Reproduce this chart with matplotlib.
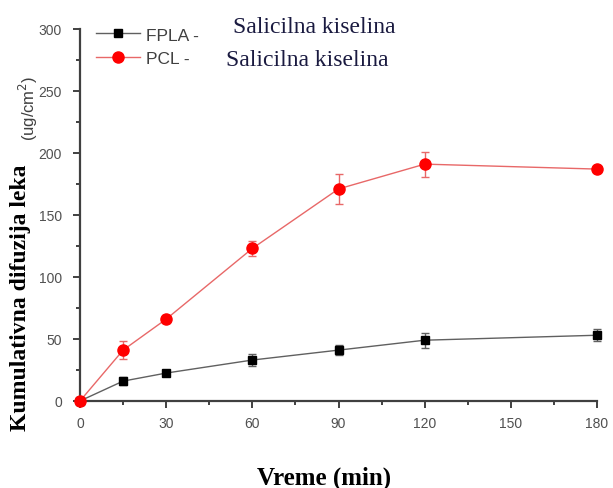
import matplotlib
matplotlib.use("Agg")
import matplotlib.pyplot as plt
from matplotlib.lines import Line2D
from matplotlib.ticker import MultipleLocator

# time points (min)
vreme = [0, 15, 30, 60, 90, 120, 180]

# cumulative diffusion (ug/cm2)
fpla = [0, 16, 22.5, 33, 41, 49, 53]
fpla_err = [0, 3, 2, 5, 4, 6, 5]
pcl = [0, 41, 66, 123, 171, 191, 187]
pcl_err = [0, 7, 3, 6, 12, 10, 2]

y_ticks = [0, 50, 100, 150, 200, 250, 300]
x_ticks = [0, 30, 60, 90, 120, 150, 180]

series_labels = ['FPLA -', 'PCL -']


def main():
    fig = plt.figure(figsize=(6.13, 4.89), dpi=100)
    ax = fig.add_axes([0.1305, 0.178, 0.8435, 0.7607])

    black_line = '#606060'
    red_line = '#e86868'

    ax.errorbar(vreme, fpla, yerr=fpla_err, color=black_line, lw=1,
                marker='s', ms=6, mfc='black', mec='black',
                ecolor=black_line, elinewidth=1, capsize=3,
                clip_on=False, zorder=3)
    ax.errorbar(vreme, pcl, yerr=pcl_err, color=red_line, lw=1,
                marker='o', ms=8, mfc='red', mec='red',
                ecolor=red_line, elinewidth=1, capsize=3,
                clip_on=False, zorder=3)

    ax.set_xlim(0, 180)
    ax.set_ylim(0, 300)
    ax.set_xticks(x_ticks)
    ax.set_yticks(y_ticks)
    ax.xaxis.set_minor_locator(MultipleLocator(15))
    ax.yaxis.set_minor_locator(MultipleLocator(25))
    for s in ['top', 'right']:
        ax.spines[s].set_visible(False)
    for s in ['left', 'bottom']:
        ax.spines[s].set_color('#404040')
        ax.spines[s].set_linewidth(1.6)
    ax.tick_params(which='both', direction='out', color='#404040', width=1.4,
                   labelsize=10, labelcolor='#505050')
    ax.tick_params(which='major', length=5)
    ax.tick_params(which='minor', length=3)
    ax.tick_params(axis='y', which='major', pad=8)
    ax.tick_params(axis='x', which='major', pad=6)
    for lab in ax.get_xticklabels() + ax.get_yticklabels():
        lab.set_family('Liberation Sans')

    # legend: plain line + marker handles
    handles = [
        Line2D([], [], color=black_line, lw=1, marker='s', ms=6,
               mfc='black', mec='black'),
        Line2D([], [], color=red_line, lw=1, marker='o', ms=8,
               mfc='red', mec='red'),
    ]
    leg = fig.legend(handles, series_labels, loc='upper left',
                     bbox_to_anchor=(0.157, 0.942), frameon=False,
                     prop={'family': 'Liberation Sans', 'size': 12.5},
                     handlelength=2.5, labelspacing=0.5, handletextpad=0.35,
                     borderpad=0, borderaxespad=0)
    for t in leg.get_texts():
        t.set_color('#404040')

    fig.text(233 / 613, 1 - 33 / 489, 'Salicilna kiselina',
             family='Liberation Serif', fontsize=17, color='#1a1a40',
             ha='left', va='baseline')
    fig.text(226 / 613, 1 - 66 / 489, 'Salicilna kiselina',
             family='Liberation Serif', fontsize=17, color='#1a1a40',
             ha='left', va='baseline')

    fig.text(21 / 613, 1 - 298 / 489, 'Kumulativna difuzija leka',
             family='Liberation Serif', fontweight='bold', fontsize=17,
             rotation=90, ha='center', va='center')
    fig.text(28 / 613, 1 - 108 / 489, '(ug/cm$^2$)', family='Liberation Sans',
             fontsize=12, color='#404040', rotation=90,
             ha='center', va='center')
    fig.text(324 / 613, 1 - 478 / 489, 'Vreme (min)',
             family='Liberation Serif', fontweight='bold', fontsize=18,
             ha='center', va='center')

    fig.savefig('out.png', dpi=100)


if __name__ == "__main__":
    main()
